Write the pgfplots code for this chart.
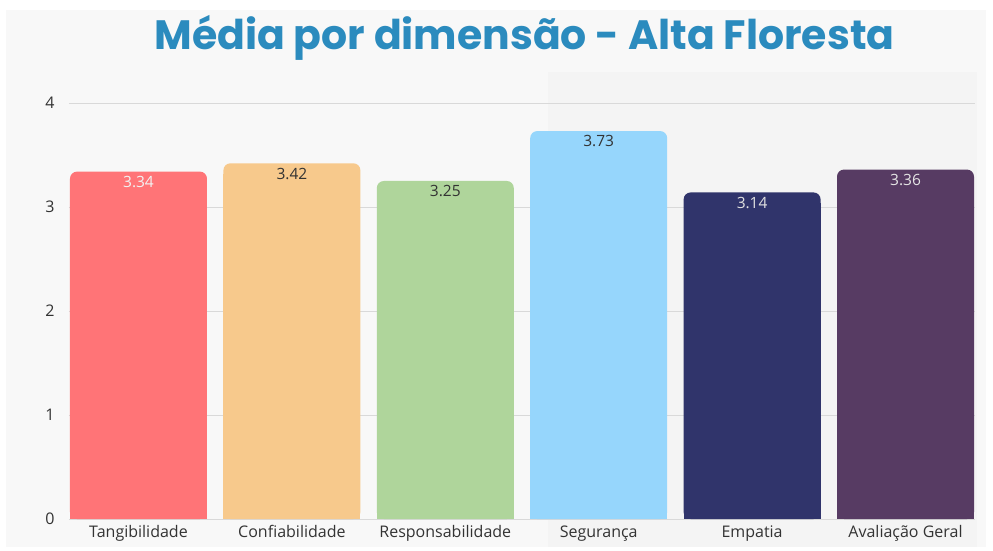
\documentclass[border=0pt]{standalone}
\usepackage{pgfplots}
\pgfplotsset{compat=1.18}
\usepackage{fontspec}
\setmainfont{Open Sans}
\newfontfamily\titlefont{Poppins}

\definecolor{panel}{HTML}{F8F8F8}
\definecolor{panelb}{HTML}{F4F4F4}
\definecolor{titleblue}{HTML}{2B8BBE}
\definecolor{gridgray}{HTML}{D9D9D9}
\definecolor{txt}{HTML}{333333}
\definecolor{cred}{HTML}{FF7477}
\definecolor{corange}{HTML}{F7C98C}
\definecolor{cgreen}{HTML}{AFD59B}
\definecolor{cblue}{HTML}{96D6FC}
\definecolor{cnavy}{HTML}{30346B}
\definecolor{cpurple}{HTML}{573B63}

% one bar: sharp lower part first, then the rounded top with its value label
\newcommand\onebar[4]{%
  \addplot[ybar, bar width=0.893, bar shift=0, fill=#3, draw=none,
    y filter/.expression={y-0.1}] coordinates {(#1,#2)};
  \addplot[ybar, bar width=0.893, bar shift=0, fill=#3, draw=none, rounded corners=7pt,
    point meta=explicit symbolic, nodes near coords,
    nodes near coords style={anchor=north, yshift=-1pt, text=#4, font=\fontsize{15.5}{17}\selectfont}]
    coordinates {(#1,#2) [#2]};
}

\begin{document}
\begin{tikzpicture}
\fill[white] (-69pt,-32pt) rectangle (924pt,519pt);
\fill[panel] (-63pt,-28pt) rectangle (917pt,509pt);
\fill[panelb] (479pt,-28pt) rectangle (908pt,447pt);
\node[anchor=base, text=titleblue, font=\titlefont\bfseries\fontsize{41}{45}\selectfont]
  at (455.5pt,469pt) {Média por dimensão - Alta Floresta};
\begin{axis}[
  at={(0pt,0pt)}, anchor=south west, scale only axis,
  width=906pt, height=416pt,
  xmin=-0.453, xmax=5.453, ymin=0, ymax=4,
  axis line style={draw=none}, major tick length=0pt,
  ytick={0,1,2,3,4}, ymajorgrids, grid style={gridgray, line width=0.9pt},
  xtick={0,...,5},
  xticklabels={Tangibilidade, Confiabilidade, Responsabilidade, Segurança, Empatia, Avaliação Geral},
  tick label style={text=txt, font=\fontsize{16}{18}\selectfont},
  /pgf/number format/assume math mode=true,
  xticklabel style={yshift=-3pt}, yticklabel style={xshift=-11pt},
]
\onebar{0}{3.34}{cred}{white!95!black}
\onebar{1}{3.42}{corange}{txt}
\onebar{2}{3.25}{cgreen}{txt}
\onebar{3}{3.73}{cblue}{txt}
\onebar{4}{3.14}{cnavy}{white!88!black}
\onebar{5}{3.36}{cpurple}{white!90!black}
\end{axis}
\end{tikzpicture}
\end{document}
